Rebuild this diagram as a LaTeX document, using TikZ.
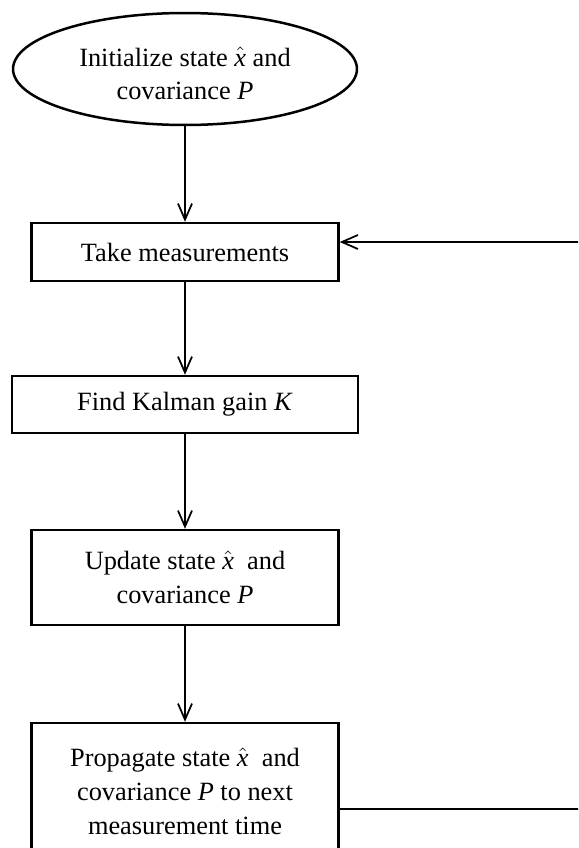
\documentclass[tikz,border=0pt]{standalone}
\usepackage{fontspec}
\setmainfont{Liberation Serif}
\usetikzlibrary{calc}
\usetikzlibrary{arrows.meta}
\usetikzlibrary{shapes.geometric}

\newcommand{\xhat}{$\hat{\mbox{\textit{x}}}$}

\begin{document}
\begin{tikzpicture}[x=0.02cm,y=-0.02cm,
  box/.style={draw,line width=.5mm,align=center,inner sep=0pt,
    font=\fontsize{15}{19.2}\selectfont},
  flow/.style={line width=.35mm,-{Straight Barb[length=3.2mm,width=2.8mm]}}]
\clip (0,0) rectangle (578,848);
\coordinate(E) at (185,69);
\coordinate(T) at (185,252);
\coordinate(F) at (185,404.5);
\coordinate(U) at (185,577.5);
\coordinate(R) at (185,791);
\coordinate(r1) at (600,809);
\coordinate(r2) at (600,242);
\node[box,ellipse,minimum width=6.88cm,minimum height=2.24cm] (init) at (E) {\raisebox{-0.27cm}[0pt][0pt]{\begin{tabular}{@{}c@{}}Initialize state \xhat\ and\\covariance \textit{P}\end{tabular}}};
\node[box,minimum width=6.14cm,minimum height=1.16cm] (take) at (T) {Take measurements};
\node[box,minimum width=6.92cm,minimum height=1.14cm] (gain) at (F) {Find Kalman gain \textit{K}};
\node[box,minimum width=6.14cm,minimum height=1.9cm] (update) at (U) {Update state \xhat\ \ and\\covariance \textit{P}};
\node[box,minimum width=6.14cm,minimum height=2.72cm] (prop) at (R) {Propagate state \xhat\ \ and\\covariance \textit{P} to next\\measurement time};
\draw[flow] (init) -- (take);
\draw[flow] (take) -- (gain);
\draw[flow] (gain) -- (update);
\draw[flow] (update) -- (prop);
\draw[flow] (prop.east |- r1) -- (r1) -- (r2) -- (take.east |- r2);
\end{tikzpicture}
\end{document}
